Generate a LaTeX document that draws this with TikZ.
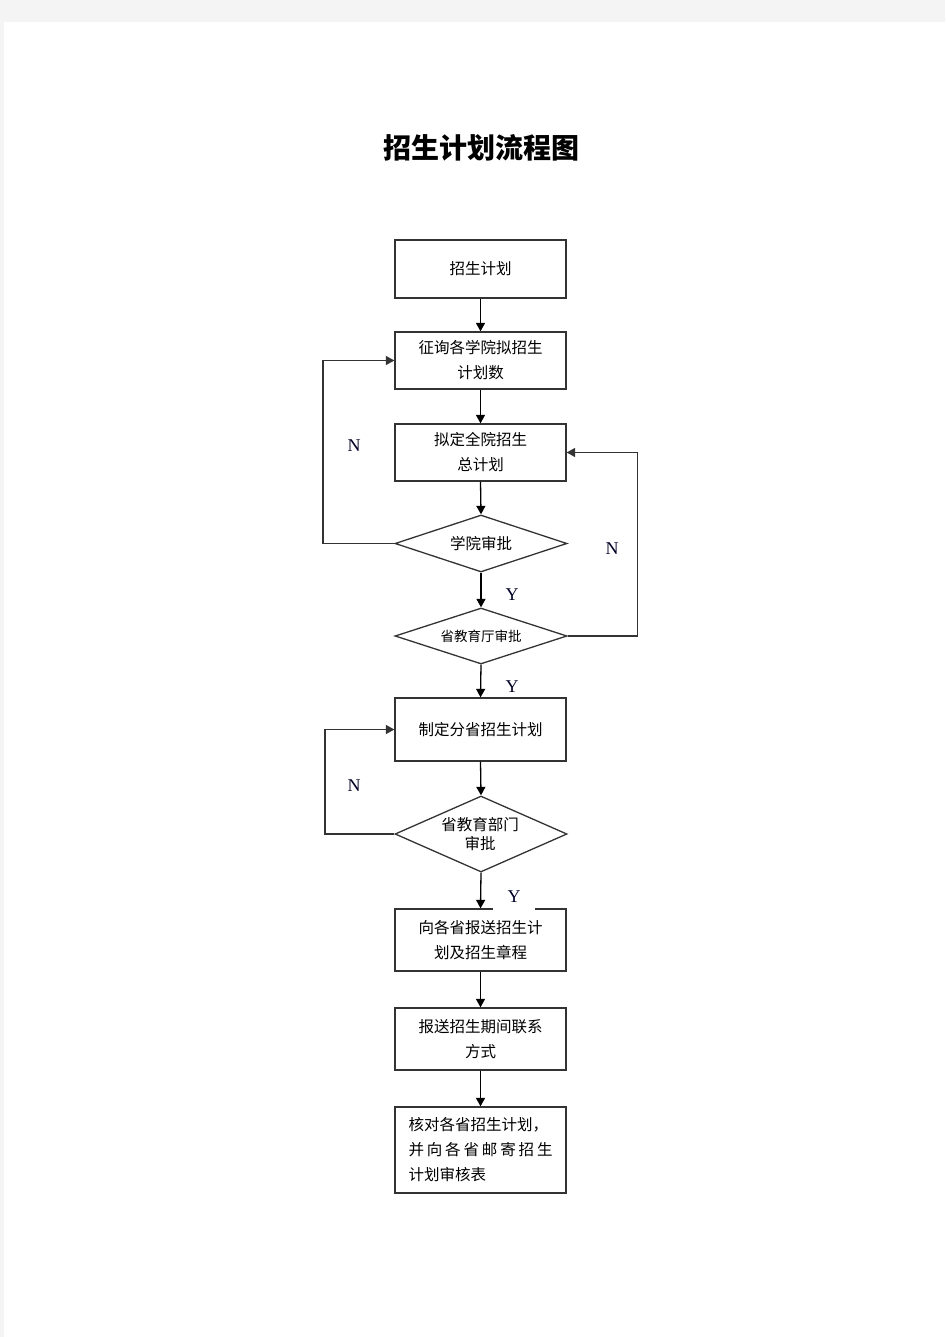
\documentclass[tikz,border=0pt]{standalone}
\usepackage{fontspec}
\newfontfamily\cjk{Noto Sans CJK SC}
\newfontfamily\tnr{Liberation Serif}
\usetikzlibrary{shapes.geometric,arrows.meta}
\definecolor{pagegray}{HTML}{F4F4F4}
\definecolor{linecol}{HTML}{333333}
\tikzset{
  boxnode/.style={draw=linecol,line width=1.3pt,rectangle,minimum width=171pt,inner sep=2pt,align=center,
    font=\cjk\fontsize{15.5}{25}\selectfont},
  decnode/.style={draw=linecol,line width=1.3pt,diamond,minimum width=172pt,inner sep=0pt},
  dectext/.style={align=center,inner sep=0pt},
  arr/.style={draw=black,line width=1.3pt,-{Triangle[length=8.5pt,width=9pt]}},
  yn/.style={font=\tnr\fontsize{18}{20}\selectfont,text=black!85!blue}
}
\begin{document}
\begin{tikzpicture}[x=1pt,y=-1pt]
\useasboundingbox (0,0) rectangle (945,1337);
\fill[pagegray] (0,0) rectangle (945,1337);
\fill[white] (4,22) rectangle (945,1337);

\node[font=\cjk\bfseries\fontsize{28}{30}\selectfont] (title) at (481,148) {招生计划流程图};

\node[boxnode,minimum height=58pt] (b1) at (480.5,269) {招生计划};
\node[boxnode,minimum height=57pt] (b2) at (480.5,360.5) {征询各学院拟招生\\计划数};
\node[boxnode,minimum height=57pt] (b3) at (480.5,452.5) {拟定全院招生\\总计划};
\node[decnode,minimum height=57pt] (d1) at (481,543.5) {};
\node[dectext,font=\cjk\fontsize{15.5}{25}\selectfont] (d1t) at (d1.center) {学院审批};
\node[decnode,minimum height=56pt] (d2) at (481,636) {};
\node[dectext,font=\cjk\fontsize{13.5}{20}\selectfont] (d2t) at (d2.center) {省教育厅审批};
\node[boxnode,minimum height=63pt] (b4) at (480.5,729.5) {制定分省招生计划};
\node[decnode,minimum height=76pt] (d3) at (481,834) {};
\node[dectext,font=\cjk\fontsize{15.5}{19}\selectfont] (d3t) at (480,834) {省教育部门\\审批};
\node[boxnode,minimum height=62pt] (b5) at (480.5,940) {向各省报送招生计\\划及招生章程};
\node[boxnode,minimum height=62pt] (b6) at (480.5,1039) {报送招生期间联系\\方式};
\node[boxnode,minimum height=86pt,align=left] (b7) at (480.5,1150)
  {\makebox[144pt][l]{核对各省招生计划，}\\
   \makebox[144pt][s]{并\hfil 向\hfil 各\hfil 省\hfil 邮\hfil 寄\hfil 招\hfil 生}\\
   \makebox[144pt][l]{计划审核表}};

\coordinate (l1) at (323,543.5);
\coordinate (r1) at (637.5,636);
\coordinate (l2) at (325,834);

\draw[arr] (b1.south) -- (b2.north);
\draw[arr] (b2.south) -- (b3.north);
\draw[arr] (b3.south) -- (d1.north);
\draw[arr] (d1.south) -- (d2.north);
\draw[arr] (d2.south) -- (b4.north);
\draw[arr] (b4.south) -- (d3.north);
\draw[arr] (d3.south) -- (b5.north);
\draw[arr] (b5.south) -- (b6.north);
\draw[arr] (b6.south) -- (b7.north);

\draw[arr,draw=linecol] (d1.west) -- (l1) |- (b2.west);
\draw[arr,draw=linecol] (d2.east) -- (r1) |- (b3.east);
\draw[arr,draw=linecol] (d3.west) -- (l2) |- (b4.west);

\node[yn] (n1) at (354,446) {N};
\node[yn] (n2) at (612,549) {N};
\node[yn] (y1) at (512,595) {Y};
\node[yn] (y2) at (512,687) {Y};
\node[yn] (n3) at (354,786) {N};
\node[yn,fill=white,minimum width=42pt,minimum height=27pt,inner sep=0pt] (y3) at (514,897) {Y};
\end{tikzpicture}
\end{document}
